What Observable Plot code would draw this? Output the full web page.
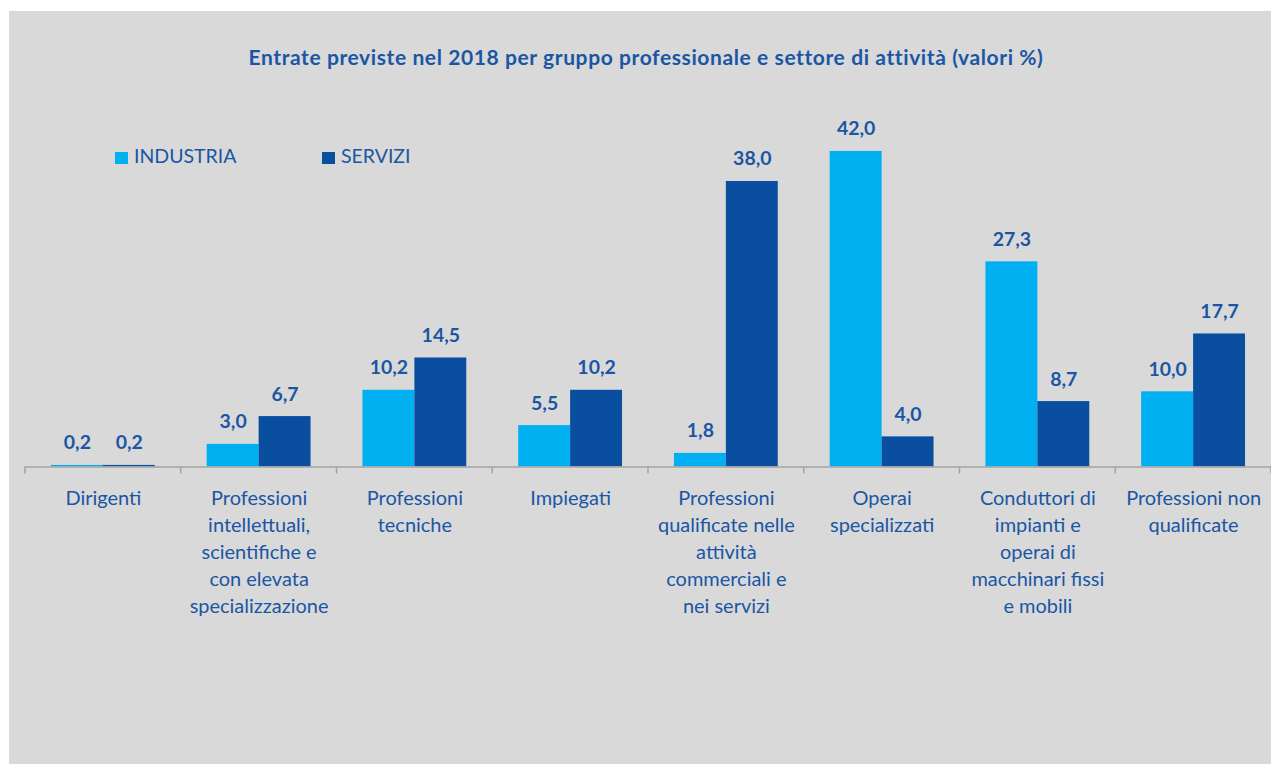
<!DOCTYPE html>
<html>
<head>
<meta charset="utf-8">
<script src="https://cdn.jsdelivr.net/npm/d3@7"></script>
<script src="https://cdn.jsdelivr.net/npm/@observablehq/plot@0.6"></script>
<style>
  html, body { margin: 0; padding: 0; background: #ffffff; }
  body { width: 1271px; height: 764px; position: relative; overflow: hidden; font-family: Lato, "Open Sans", sans-serif; }
  #panel { position: absolute; left: 9px; top: 11px; width: 1262px; height: 753px; background: #d9d9d9; overflow: hidden; }
  #title { position: absolute; left: 0; width: 1274px; top: 35px; text-align: center; font-weight: 700; font-size: 21px; line-height: 21px; letter-spacing: 0.6px; color: #1a56a4; white-space: nowrap; }
  .legend { position: absolute; top: 135px; font-size: 19.5px; line-height: 19.5px; color: #1a56a4; white-space: nowrap; }
  .legend i { display: inline-block; width: 13px; height: 12px; margin-right: 6px; vertical-align: -1px; }
  #chart { position: absolute; left: 0; top: 89px; }
</style>
</head>
<body>
<div id="panel">
  <div id="title">Entrate previste nel 2018 per gruppo professionale e settore di attività (valori %)</div>
  <div id="legend"></div>
  <div id="chart"></div>
</div>
<script>
// Occupational groups (facets) and the labels shown under the axis
const categories = [
  "Dirigenti",
  "Professioni intellettuali",
  "Professioni tecniche",
  "Impiegati",
  "Professioni qualificate",
  "Operai specializzati",
  "Conduttori di impianti",
  "Professioni non qualificate"
];
const tickLabels = [
  "Dirigenti",
  "Professioni\nintellettuali,\nscientifiche e\ncon elevata\nspecializzazione",
  "Professioni\ntecniche",
  "Impiegati",
  "Professioni\nqualificate nelle\nattività\ncommerciali e\nnei servizi",
  "Operai\nspecializzati",
  "Conduttori di\nimpianti e\noperai di\nmacchinari fissi\ne mobili",
  "Professioni non\nqualificate"
];
const series = ["INDUSTRIA", "SERVIZI"];
const industria = [0.2, 3.0, 10.2, 5.5, 1.8, 42.0, 27.3, 10.0];
const servizi   = [0.2, 6.7, 14.5, 10.2, 38.0, 4.0, 8.7, 17.7];
const colors = ["#00b0f0", "#0a4f9f"];

const rows = [];
categories.forEach((c, i) => {
  rows.push({cat: c, series: series[0], value: industria[i]});
  rows.push({cat: c, series: series[1], value: servizi[i]});
});

const textColor = "#1a56a4";
const fmt = v => v.toFixed(1).replace(".", ",");
const labelOf = new Map(categories.map((c, i) => [c, tickLabels[i]]));

const plot = Plot.plot({
  width: 1264,
  height: 664,
  marginLeft: 16,
  marginRight: 0,
  marginTop: 51,
  marginBottom: 297,
  style: {background: "transparent", fontFamily: "Lato, 'Open Sans', sans-serif", fontSize: "20px", overflow: "visible"},
  fx: {domain: categories, padding: 0},
  x: {domain: series, paddingInner: 0, paddingOuter: 0.5, axis: null},
  y: {domain: [0, 42], axis: null},
  color: {domain: series, range: colors},
  marks: [
    Plot.barY(rows, {fx: "cat", x: "series", y: "value", fill: "series"}),
    Plot.ruleY([0], {stroke: "#a3a3a3", strokeWidth: 1.5}),
    Plot.text(rows, {
      fx: "cat", x: "series", y: "value",
      text: d => fmt(d.value),
      lineAnchor: "bottom", dy: -16,
      fill: textColor, fontWeight: "bold", fontSize: 19.5
    }),
    Plot.axisFx({
      anchor: "bottom", tickSize: 0, tickPadding: 19, label: null,
      tickFormat: c => labelOf.get(c), lineHeight: 1.35,
      fill: textColor, fontSize: 20
    })
  ]
});

// Tick marks at the boundaries between groups
const fx = plot.scale("fx");
const y0 = plot.scale("y").apply(0);
const svg = d3.select(plot.tagName === "svg" ? plot : plot.querySelector("svg"));
const g = svg.append("g").attr("stroke", "#a3a3a3").attr("stroke-width", 1.5);
categories.concat([null]).forEach((c, i) => {
  const x = c === null ? fx.apply(categories[categories.length - 1]) + fx.step : fx.apply(c);
  g.append("line").attr("x1", x).attr("x2", x).attr("y1", y0).attr("y2", y0 + 7);
});

document.getElementById("chart").appendChild(plot);

// Legend
const legend = document.getElementById("legend");
const legendX = [106, 313];
series.forEach((s, i) => {
  const el = document.createElement("div");
  el.className = "legend";
  el.style.left = legendX[i] + "px";
  el.innerHTML = `<i style="background:${colors[i]}"></i>${s}`;
  legend.appendChild(el);
});
</script>
</body>
</html>
